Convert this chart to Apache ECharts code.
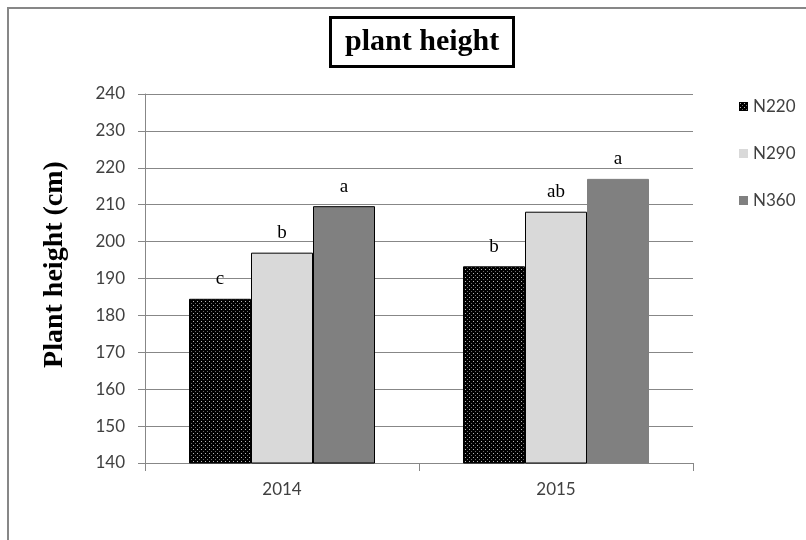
<!DOCTYPE html>
<html>
<head>
<meta charset="utf-8">
<script src="https://cdn.jsdelivr.net/npm/echarts@6/dist/echarts.min.js"></script>
<style>
  html, body { margin: 0; padding: 0; background: #fff; }
  #chart { width: 806px; height: 540px; }
</style>
</head>
<body>
<div id="chart"></div>
<script>
// Plant height by year and nitrogen rate
const years = ['2014', '2015'];
const seriesNames = ['N220', 'N290', 'N360'];
const n220 = [184.5, 193.3];
const n290 = [197.0, 208.1];
const n360 = [209.6, 217.0];
// significance letters shown above each bar
const n220Letters = ['c', 'b'];
const n290Letters = ['b', 'ab'];
const n360Letters = ['a', 'a'];
const yTicks = { min: 140, max: 240, step: 10 };

// black fill with a fine grid of light dots
function dotPattern() {
  const c = document.createElement('canvas');
  c.width = 4; c.height = 4;
  const g = c.getContext('2d');
  g.fillStyle = '#000';
  g.fillRect(0, 0, 4, 4);
  g.fillStyle = '#b8b8b8';
  g.fillRect(1, 1, 1, 1);
  g.fillStyle = '#6a6a6a';
  g.fillRect(3, 3, 1, 1);
  return c;
}

const serif = '"Liberation Serif", "Times New Roman", serif';
const sans = 'Lato, "Liberation Sans", Arial, sans-serif';

function labelled(values, letters, styles) {
  return values.map((v, i) => {
    const d = { value: v, label: { formatter: letters[i] } };
    if (styles && styles[i]) d.itemStyle = styles[i];
    return d;
  });
}

const chart = echarts.init(document.getElementById('chart'), null, { renderer: 'canvas' });

const barLabel = {
  show: true, position: 'top', distance: 10,
  fontFamily: serif, fontSize: 19, color: '#000'
};

chart.setOption({
  animation: false,
  backgroundColor: '#fff',
  graphic: [{
    type: 'rect', silent: true,
    shape: { x: 8, y: 8, width: 830, height: 570 },
    style: { fill: 'none', stroke: '#878787', lineWidth: 2 }
  }],
  title: {
    text: 'plant height',
    left: 330, top: 17,
    padding: [10, 15, 10, 15],
    borderColor: '#000', borderWidth: 3,
    textStyle: { fontFamily: serif, fontWeight: 'bold', fontSize: 30, color: '#000', lineHeight: 30 }
  },
  legend: {
    orient: 'vertical', left: 734, top: 93,
    itemWidth: 9, itemHeight: 9, itemGap: 30,
    icon: 'rect',
    itemStyle: { borderWidth: 0 },
    textStyle: { fontFamily: sans, fontSize: 17, color: '#404040' },
    data: seriesNames
  },
  grid: { left: 145, right: 113, top: 94, bottom: 77 },
  xAxis: {
    type: 'category', data: years,
    axisLine: { lineStyle: { color: '#878787', width: 1 } },
    axisTick: { show: true, length: 8, lineStyle: { color: '#878787' } },
    axisLabel: { fontFamily: sans, fontSize: 17, color: '#404040', margin: 18 }
  },
  yAxis: {
    type: 'value', min: yTicks.min, max: yTicks.max, interval: yTicks.step,
    name: 'Plant height (cm)', nameLocation: 'middle', nameGap: 76,
    nameTextStyle: { fontFamily: serif, fontWeight: 'bold', fontSize: 28, color: '#000', padding: [0, 0, 0, 28] },
    axisLine: { show: true, lineStyle: { color: '#878787' } },
    axisTick: { show: true, inside: false, length: 7, lineStyle: { color: '#878787' } },
    axisLabel: { fontFamily: sans, fontSize: 17, color: '#404040', margin: 20 },
    splitLine: { lineStyle: { color: '#878787', width: 1 } }
  },
  series: [
    {
      name: 'N220', type: 'bar', barWidth: 62, barGap: '0%',
      data: labelled(n220, n220Letters),
      itemStyle: { color: { image: dotPattern(), repeat: 'repeat' }, borderColor: '#000', borderWidth: 1 },
      label: barLabel
    },
    {
      name: 'N290', type: 'bar', barWidth: 62, barGap: '0%',
      data: labelled(n290, n290Letters),
      itemStyle: { color: '#d9d9d9', borderColor: '#000', borderWidth: 1 },
      label: barLabel
    },
    {
      name: 'N360', type: 'bar', barWidth: 62, barGap: '0%',
      data: labelled(n360, n360Letters, [{ borderColor: '#000' }, null]),
      itemStyle: { color: '#808080', borderColor: '#808080', borderWidth: 1 },
      label: barLabel
    }
  ]
});
</script>
</body>
</html>
